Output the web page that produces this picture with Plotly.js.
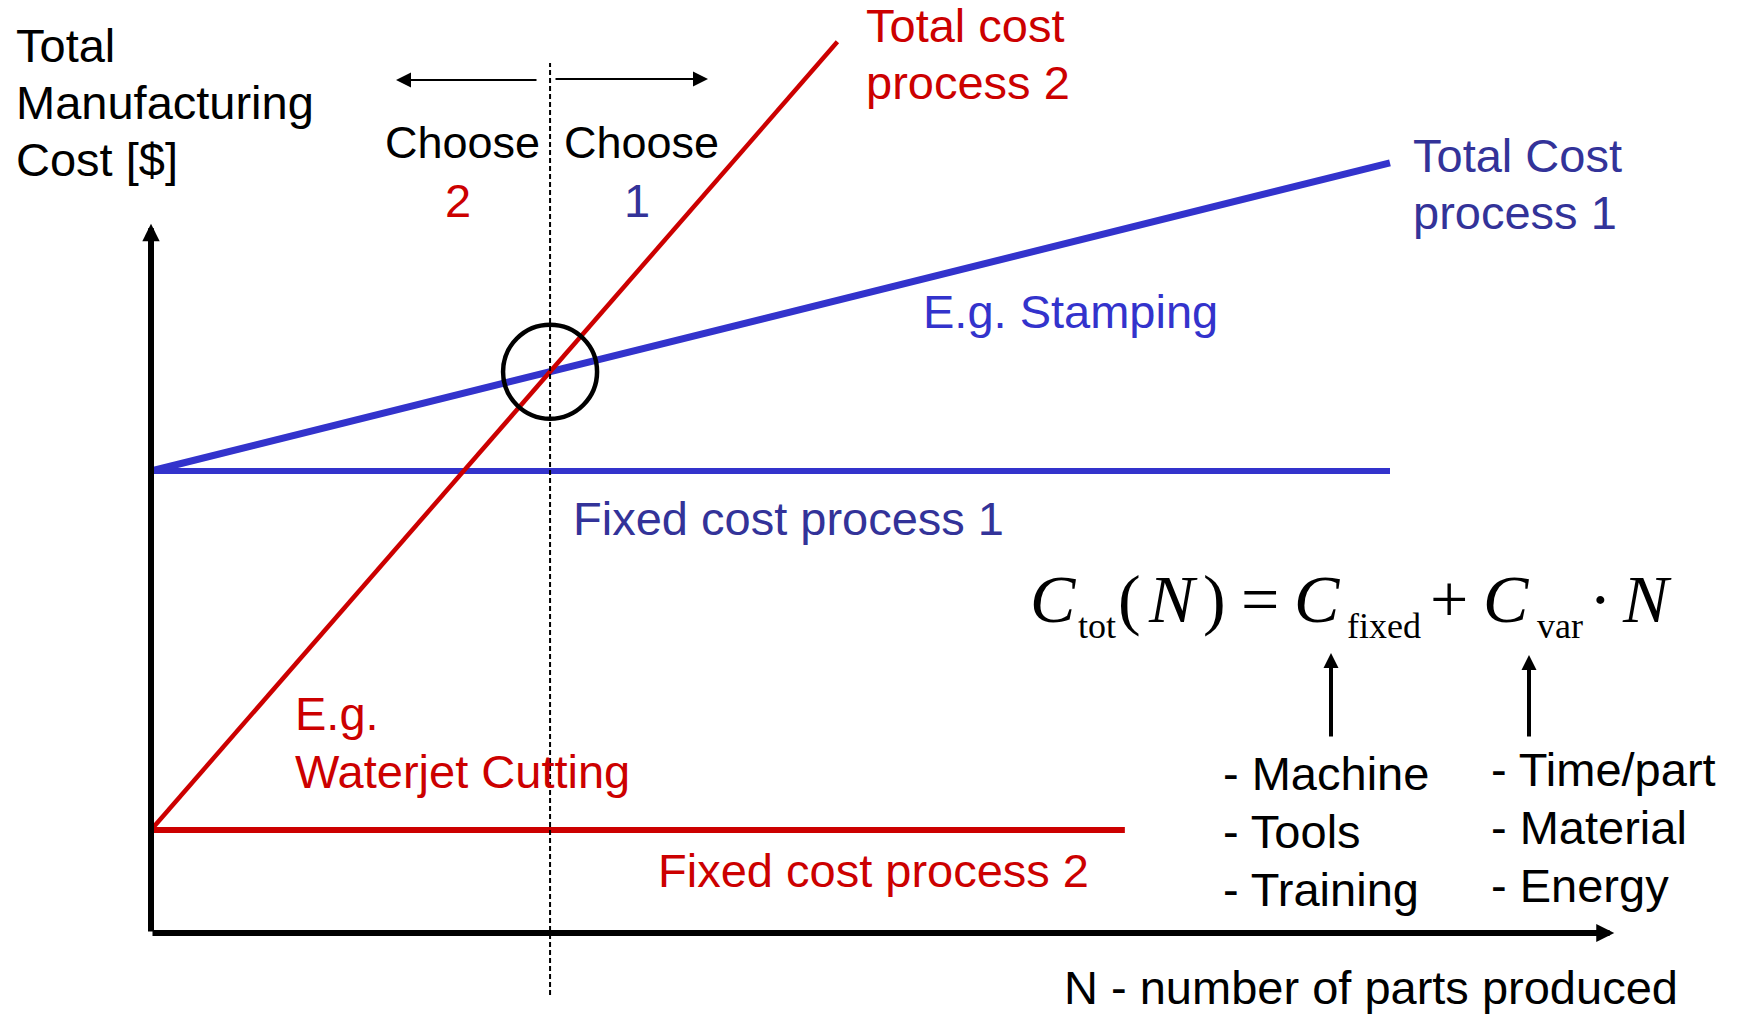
<!DOCTYPE html>
<html><head><meta charset="utf-8">
<script src="https://cdn.plot.ly/plotly-3.0.1.min.js"></script>
<style>html,body{margin:0;padding:0;background:#fff;overflow:hidden}#chart{width:1744px;height:1017px}</style>
</head><body><div id="chart"></div>
<script>
// ---- Data (abstract units: N = number of parts, cost in $) ----
const nFixed1 = [0, 100];
const costFixed1 = [100, 100];
const nTotal1 = [0, 100];
const costTotal1 = [100, 166.7];
const nFixed2 = [0, 78.6];
const costFixed2 = [22.3, 22.3];
const nTotal2 = [0, 55.4];
const costTotal2 = [22.3, 192.9];
const axisEndN = 118.1;
const axisEndCost = 153.5;

// ---- Layout helpers ----
const W = 1744, H = 1017;
const ORIGIN_X = 151, ORIGIN_Y = 933, PX_PER_N = 12.39, PX_PER_COST = 4.62;
const RED = '#CC0000', BLUE = '#3333CC', DBLUE = '#333399', BLACK = '#000000';
const SANS = 'Liberation Sans, Arial, sans-serif';
const SERIF = 'Liberation Serif, Times New Roman, serif';

// break-even point derived from the two total-cost lines
const slope1 = (costTotal1[1] - costTotal1[0]) / (nTotal1[1] - nTotal1[0]);
const slope2 = (costTotal2[1] - costTotal2[0]) / (nTotal2[1] - nTotal2[0]);
const nBE = (costTotal1[0] - costTotal2[0]) / (slope2 - slope1);
const cBE = costTotal1[0] + slope1 * nBE;

function lbl(text, x, base, color, opts) {
  opts = opts || {};
  const size = opts.size || 47;
  const fam = opts.family || SANS;
  const k = (opts.k != null) ? opts.k : 0.3465;
  return {xref: 'paper', yref: 'paper', x: x / W, y: 1 - (base - k * size) / H,
    xanchor: opts.anchor || 'left', yanchor: 'middle', showarrow: false, text: text,
    font: {family: fam, size: size, color: color}};
}
function arr(xTip, yTip, dx, dy, width, size) {
  return {xref: 'paper', yref: 'paper', x: xTip / W, y: 1 - yTip / H, ax: dx, ay: dy,
    showarrow: true, arrowhead: 2, arrowwidth: width, arrowsize: size, arrowcolor: BLACK, text: ''};
}

const traces = [
  {x: nFixed1, y: costFixed1, mode: 'lines', line: {color: BLUE, width: 6}},
  {x: nTotal1, y: costTotal1, mode: 'lines', line: {color: BLUE, width: 7}},
  {x: nFixed2, y: costFixed2, mode: 'lines', line: {color: RED, width: 6}},
  {x: nTotal2, y: costTotal2, mode: 'lines', line: {color: RED, width: 4.5}},
  {x: [nBE], y: [cBE], mode: 'markers',
   marker: {symbol: 'circle-open', size: 94, color: BLACK, line: {color: BLACK, width: 4.5}}}
];

const annotations = [
  // axes
  {x: 0, y: axisEndCost, xref: 'x', yref: 'y', ax: 0, ay: 0, axref: 'x', ayref: 'y',
   showarrow: true, arrowhead: 2, arrowwidth: 6, arrowsize: 0.58, arrowcolor: BLACK, text: ''},
  {x: axisEndN, y: 0, xref: 'x', yref: 'y', ax: 0, ay: 0, axref: 'x', ayref: 'y',
   showarrow: true, arrowhead: 2, arrowwidth: 6, arrowsize: 0.6, arrowcolor: BLACK, text: ''},
  // choose arrows
  arr(396, 80, 142, 0, 2, 1.5),
  arr(708, 79, -154, 0, 2, 1.5),
  // formula arrows
  arr(1331, 653, 0, 85, 4, 0.75),
  arr(1529, 655, 0, 83, 4, 0.75),
  // texts
  lbl('Total', 14, 62, BLACK),
  lbl('Manufacturing', 14, 119, BLACK),
  lbl('Cost [$]', 14, 176, BLACK),
  lbl('Choose', 383, 158, BLACK, {size: 45}),
  lbl('Choose', 562, 158, BLACK, {size: 45}),
  lbl('2', 458, 217, RED, {anchor: 'center'}),
  lbl('1', 637, 217, DBLUE, {anchor: 'center'}),
  lbl('Total cost', 864, 42, RED),
  lbl('process 2', 864, 99, RED),
  lbl('Total Cost', 1411, 172, DBLUE),
  lbl('process 1', 1411, 229, DBLUE),
  lbl('E.g. Stamping', 921, 328, BLUE),
  lbl('Fixed cost process 1', 571, 535, DBLUE),
  lbl('E.g.', 293, 730, RED),
  lbl('Waterjet Cutting', 293, 788, RED),
  lbl('Fixed cost process 2', 656, 887, RED),
  lbl('- Machine', 1221, 790, BLACK),
  lbl('- Tools', 1221, 848, BLACK),
  lbl('- Training', 1221, 906, BLACK),
  lbl('- Time/part', 1489, 786, BLACK),
  lbl('- Material', 1489, 844, BLACK),
  lbl('- Energy', 1489, 902, BLACK),
  lbl('N - number of parts produced', 1062, 1004, BLACK)
];

// formula pieces: [text, left x, baseline, size]
const formula = [
  ['<i>C</i>', 1028, 622, 68], ['tot', 1076, 638, 36], ['(', 1116, 622, 68],
  ['<i>N</i>', 1146, 622, 68], [')', 1201, 622, 68], ['=', 1239, 622, 68],
  ['<i>C</i>', 1292, 622, 68], ['fixed', 1345, 638, 36], ['+', 1428, 622, 68],
  ['<i>C</i>', 1481, 622, 68], ['var', 1535, 638, 36], ['·', 1587, 622, 68],
  ['<i>N</i>', 1620, 622, 68]
];
formula.forEach(p => annotations.push(lbl(p[0], p[1], p[2], BLACK, {family: SERIF, k: 0.3375, size: p[3]})));

const layout = {
  width: W, height: H, autosize: false,
  margin: {l: 0, r: 0, t: 0, b: 0, pad: 0},
  paper_bgcolor: '#ffffff', plot_bgcolor: '#ffffff',
  showlegend: false,
  xaxis: {range: [(0 - ORIGIN_X) / PX_PER_N, (W - ORIGIN_X) / PX_PER_N], visible: false, fixedrange: true},
  yaxis: {range: [(ORIGIN_Y - H) / PX_PER_COST, ORIGIN_Y / PX_PER_COST], visible: false, fixedrange: true},
  shapes: [
    {type: 'line', xref: 'x', yref: 'paper', x0: nBE, x1: nBE, y0: 1 - 995 / H, y1: 1 - 63 / H,
     line: {color: BLACK, width: 2, dash: '5px,3px'}, layer: 'above'}
  ],
  annotations: annotations
};

Plotly.newPlot('chart', traces, layout, {displayModeBar: false, staticPlot: true});
</script></body></html>
